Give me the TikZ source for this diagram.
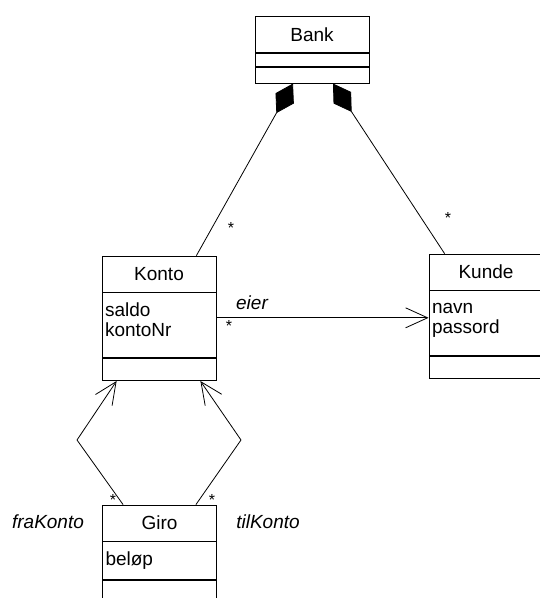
\documentclass[tikz,border=0pt]{standalone}
\usepackage{fontspec}
\setmainfont{Liberation Sans}
\usetikzlibrary{ positioning, % For easy node-relative placements
                 arrows.meta, % For the open and diamond tips
               }
\tikzstyle{classname} = [rectangle, draw=black, minimum width=114pt, minimum height=36pt, inner sep=0pt, font=\fontsize{19}{20}\selectfont]
\tikzstyle{classattr} = [rectangle, draw=black, minimum width=114pt, text width=108pt, inner xsep=3pt, inner ysep=0pt, align=left, font=\fontsize{19}{20}\selectfont]
\tikzstyle{classops} = [rectangle, draw=black, minimum width=114pt, inner sep=0pt]
\tikzstyle{mult} = [inner sep=0pt, font=\fontsize{16}{16}\selectfont]
\tikzstyle{role} = [inner sep=0pt, font=\fontsize{19}{20}\selectfont\itshape]
\tikzstyle{comp} = [-{Diamond[length=34pt,width=21pt]}]
\tikzstyle{nav} = [-{Straight Barb[length=22pt,width=20pt]}]

\begin{document}
\begin{tikzpicture}[x=1pt, y=-1pt, line width=0.8pt]
  \clip (0, 0) rectangle (540, 598);

  % classes
  \node (bankname) [classname] at (312, 34.5) {Bank};
  \node (bankattr) [classops, minimum height=13pt, below=0pt of bankname] {};
  \node (bankops) [classops, minimum height=16pt, below=0pt of bankattr] {};

  \node (kontoname) [classname] at (159, 274) {Konto};
  \node (kontoattr) [classattr, minimum height=65pt, below=0pt of kontoname] {saldo\\kontoNr\rule[-12pt]{0pt}{0pt}};
  \node (kontoops) [classops, minimum height=22pt, below=0pt of kontoattr] {};

  \node (kundename) [classname] at (486, 272) {Kunde};
  \node (kundeattr) [classattr, minimum height=65pt, below=0pt of kundename] {navn\\passord\rule[-10pt]{0pt}{0pt}};
  \node (kundeops) [classops, minimum height=22pt, below=0pt of kundeattr] {};

  \node (gironame) [classname] at (159.5, 523) {Giro};
  \node (giroattr) [classattr, minimum height=38pt, below=0pt of gironame] {beløp};
  \node (giroops) [classops, minimum height=30pt, below=0pt of giroattr] {};

  % aggregations to Bank
  \draw [comp] ([xshift=-20pt]kontoname.north east) -- ([xshift=-19pt]bankops.south);
  \draw [comp] ([xshift=16pt]kundename.north west) -- ([xshift=21pt]bankops.south);
  \node (mkonto) [mult] at (231, 228) {*};
  \node (mkunde) [mult] at (448, 218) {*};

  % eier
  \coordinate (eierstart) at ([yshift=7.5pt]kontoattr.east);
  \draw [nav] (eierstart) -- (eierstart -| kundeattr.west);
  \node (eier) [role] at (252, 303) {eier};
  \node (meier) [mult] at (229, 326) {*};

  % Giro to Konto
  \coordinate (frabend) at (77, 440);
  \coordinate (tilbend) at (241, 440);
  \draw [nav] ([xshift=21pt]gironame.north west) -- (frabend) -- ([xshift=15pt]kontoops.south west);
  \draw [nav] ([xshift=-21pt]gironame.north east) -- (tilbend) -- ([xshift=-16pt]kontoops.south east);
  \node (mfra) [mult] at (113, 500) {*};
  \node (mtil) [mult] at (212, 500) {*};
  \node (fra) [role] at (48, 522) {fraKonto};
  \node (til) [role] at (268, 522) {tilKonto};
\end{tikzpicture}
\end{document}
